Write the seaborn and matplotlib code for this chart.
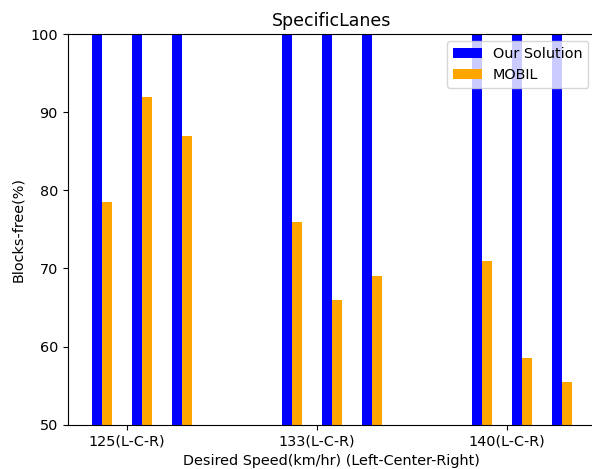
import numpy as np
import pandas as pd
import matplotlib
matplotlib.use("Agg")
import matplotlib.pyplot as plt
import seaborn as sns

speeds = ['125(L-C-R)', '133(L-C-R)', '140(L-C-R)']
lanes = ['L', 'C', 'R']
methods = ['Our Solution', 'MOBIL']
ours = [100, 100, 100, 100, 100, 100, 100, 100, 100]
mobil = [78.5, 92, 87, 76, 66, 69, 71, 58.5, 55.5]

# layout: groups 19 units apart, lanes 4 apart, one unit per bar
group_step = 19
lane_offsets = np.array([-3, 1, 5])

rows = []
for g in range(len(speeds)):
    for l in range(len(lanes)):
        i = g * len(lanes) + l
        pos = g * group_step + lane_offsets[l]
        rows.append({'pos': pos, 'value': ours[i], 'method': methods[0]})
        rows.append({'pos': pos + 1, 'value': mobil[i], 'method': methods[1]})
df = pd.DataFrame(rows)

plt.rcParams['font.size'] = 10.4

fig = plt.figure(figsize=(5.92, 4.69), dpi=100)
ax = fig.add_axes([67.7 / 592, (469 - 424.7) / 469, 528 / 592, 390.7 / 469])

sns.barplot(
    data=df, x='pos', y='value', hue='method',
    hue_order=methods,
    palette={'Our Solution': 'blue', 'MOBIL': 'orange'},
    native_scale=True, dodge=False, width=1,
    saturation=1, errorbar=None, linewidth=0, ax=ax
)

ax.set_ylim(50, 100)
ax.set_yticks([50, 60, 70, 80, 90, 100])
ax.set_xticks([g * group_step for g in range(len(speeds))])
ax.set_xticklabels(speeds)
ax.set_xlim(-5.9, 46.9)
ax.set_xlabel('Desired Speed(km/hr) (Left-Center-Right)')
ax.set_ylabel('Blocks-free(%)')
ax.set_title('SpecificLanes', fontsize=12.5)
ax.legend(loc='upper right', title=None)
# the right edge of the axes falls outside the cropped picture
ax.spines['right'].set_visible(False)

fig.savefig('out.png', dpi=100)
